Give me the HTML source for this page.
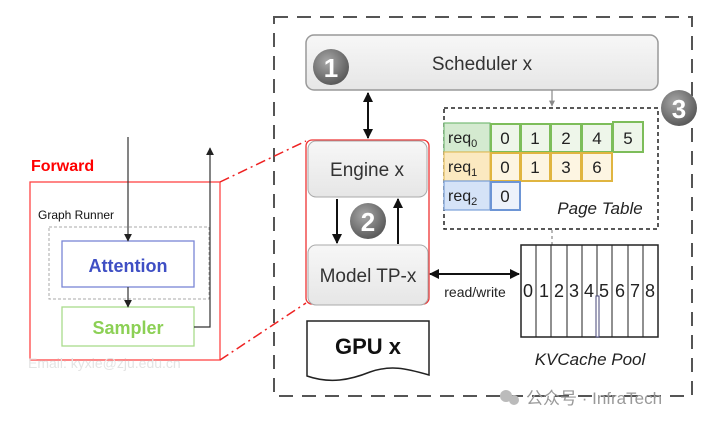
<!DOCTYPE html>
<html><head><meta charset="utf-8"><style>
html,body{margin:0;padding:0;background:#fff;}
svg{display:block;font-family:"Liberation Sans","Noto Sans CJK SC",sans-serif;}
</style></head><body>
<svg width="720" height="426" viewBox="0 0 720 426" xmlns="http://www.w3.org/2000/svg">
<defs>
<linearGradient id="g" x1="0" y1="0" x2="0" y2="1"><stop offset="0" stop-color="#f7f7f7"/><stop offset="1" stop-color="#e6e6e6"/></linearGradient>
<radialGradient id="c" cx="0.4" cy="0.35" r="0.7"><stop offset="0" stop-color="#a8a8a8"/><stop offset="1" stop-color="#555"/></radialGradient>
<marker id="a" viewBox="0 0 10 10" refX="9" refY="5" markerUnits="userSpaceOnUse" markerWidth="10" markerHeight="10" orient="auto-start-reverse"><path d="M0,0L10,5L0,10z" fill="#111"/></marker>
<marker id="as" viewBox="0 0 10 10" refX="9" refY="5" markerUnits="userSpaceOnUse" markerWidth="8" markerHeight="8" orient="auto-start-reverse"><path d="M0,0L10,5L0,10z" fill="#222"/></marker>
<marker id="ag" viewBox="0 0 10 10" refX="9" refY="5" markerUnits="userSpaceOnUse" markerWidth="6" markerHeight="6" orient="auto"><path d="M0,0L10,5L0,10z" fill="#888"/></marker>
</defs>
<rect x="274" y="17" width="418" height="379" fill="none" stroke="#555" stroke-width="2" stroke-dasharray="14,9"/>
<rect x="306" y="35" width="352" height="55" rx="8" fill="url(#g)" stroke="#999" stroke-width="1.5"/>
<text x="482" y="70" font-size="19" fill="#333" text-anchor="middle">Scheduler x</text>
<line x1="552" y1="90" x2="552" y2="106" stroke="#888" stroke-width="1.2" marker-end="url(#ag)"/>
<rect x="306" y="140" width="123" height="164" rx="6" fill="none" stroke="#e33" stroke-width="1.3"/>
<rect x="308" y="141" width="119" height="56" rx="8" fill="url(#g)" stroke="#aaa" stroke-width="1"/>
<text x="367" y="176" font-size="19" fill="#333" text-anchor="middle">Engine x</text>
<rect x="308" y="245" width="120" height="60" rx="8" fill="url(#g)" stroke="#aaa" stroke-width="1"/>
<text x="368" y="282" font-size="19" fill="#333" text-anchor="middle">Model TP-x</text>
<line x1="368" y1="93" x2="368" y2="138" stroke="#111" stroke-width="2" marker-start="url(#a)" marker-end="url(#a)"/>
<line x1="337" y1="199" x2="337" y2="243" stroke="#111" stroke-width="2" marker-end="url(#a)"/>
<line x1="398" y1="244" x2="398" y2="199" stroke="#111" stroke-width="2" marker-end="url(#a)"/>
<g font-weight="bold" font-size="26" fill="#fff" text-anchor="middle">
<circle cx="331" cy="67" r="18" fill="url(#c)"/><text x="331" y="77">1</text>
<circle cx="368" cy="221" r="18" fill="url(#c)"/><text x="368" y="231">2</text>
<circle cx="679" cy="108" r="18" fill="url(#c)"/><text x="679" y="118">3</text>
</g>
<rect x="444" y="108" width="214" height="121" fill="none" stroke="#222" stroke-width="1.5" stroke-dasharray="4,3"/>
<rect x="444" y="123" width="46" height="29" fill="#d4ead0" stroke="#7b7" stroke-width="1.2"/>
<rect x="444" y="152" width="46" height="29" fill="#fbe9c0" stroke="#e5c060" stroke-width="1.2"/>
<rect x="444" y="181" width="46" height="29" fill="#d5e3f7" stroke="#7aa0d8" stroke-width="1.2"/>
<g font-size="16" fill="#222">
<text x="448" y="143">req<tspan font-size="11" dy="4">0</tspan></text>
<text x="448" y="172">req<tspan font-size="11" dy="4">1</tspan></text>
<text x="448" y="201">req<tspan font-size="11" dy="4">2</tspan></text>
</g>
<g fill="#eef6ea" stroke="#7dbd5a" stroke-width="2">
<rect x="491" y="124" width="29" height="28"/><rect x="521" y="124" width="29" height="28"/><rect x="551" y="124" width="30" height="28"/><rect x="582" y="124" width="30" height="28"/><rect x="613" y="122" width="30" height="30"/>
</g>
<g fill="#fdf5e2" stroke="#e0b540" stroke-width="2">
<rect x="491" y="153" width="29" height="28"/><rect x="521" y="153" width="29" height="28"/><rect x="551" y="153" width="30" height="28"/><rect x="582" y="153" width="30" height="28"/>
</g>
<rect x="491" y="182" width="29" height="28" fill="#edf2fb" stroke="#6d95d5" stroke-width="2"/>
<g font-size="17" fill="#222" text-anchor="middle">
<text x="505" y="144">0</text><text x="535" y="144">1</text><text x="566" y="144">2</text><text x="597" y="144">4</text><text x="628" y="144">5</text>
<text x="505" y="173">0</text><text x="535" y="173">1</text><text x="566" y="173">3</text><text x="597" y="173">6</text>
<text x="505" y="202">0</text>
</g>
<text x="600" y="214" font-size="17" font-style="italic" fill="#222" text-anchor="middle">Page Table</text>
<line x1="552" y1="230" x2="552" y2="272" stroke="#888" stroke-width="1.2" stroke-dasharray="3,3" marker-end="url(#ag)"/>
<line x1="430" y1="274" x2="519" y2="274" stroke="#111" stroke-width="2" marker-start="url(#a)" marker-end="url(#a)"/>
<text x="475" y="297" font-size="14" fill="#222" text-anchor="middle">read/write</text>
<rect x="521" y="245" width="137" height="92" fill="#fff" stroke="#222" stroke-width="1.5"/>
<g stroke="#222" stroke-width="1">
<line x1="536" y1="245" x2="536" y2="337"/><line x1="551" y1="245" x2="551" y2="337"/><line x1="567" y1="245" x2="567" y2="337"/><line x1="582" y1="245" x2="582" y2="337"/><line x1="597" y1="245" x2="597" y2="337"/><line x1="612" y1="245" x2="612" y2="337"/><line x1="628" y1="245" x2="628" y2="337"/><line x1="643" y1="245" x2="643" y2="337"/>
</g>
<rect x="596" y="296" width="3" height="41" fill="#fff" stroke="#447" stroke-width="1"/>
<g font-size="18" fill="#222" text-anchor="middle">
<text x="528" y="297">0</text><text x="544" y="297">1</text><text x="559" y="297">2</text><text x="574" y="297">3</text><text x="589" y="297">4</text><text x="604" y="297">5</text><text x="620" y="297">6</text><text x="635" y="297">7</text><text x="650" y="297">8</text>
</g>
<text x="590" y="365" font-size="17" font-style="italic" fill="#222" text-anchor="middle">KVCache Pool</text>
<path d="M307,321 L429,321 L429,375 C405,368 390,365 370,372 C350,380 330,384 307,376 Z" fill="#fff" stroke="#222" stroke-width="1.5"/>
<text x="368" y="354" font-size="22" font-weight="bold" fill="#111" text-anchor="middle">GPU x</text>
<text x="31" y="171" font-size="16" font-weight="bold" fill="#f00">Forward</text>
<rect x="30" y="182" width="190" height="178" fill="none" stroke="#f44" stroke-width="1.3"/>
<text x="38" y="219" font-size="12" fill="#111">Graph Runner</text>
<rect x="49" y="227" width="160" height="72" fill="none" stroke="#aaa" stroke-width="1" stroke-dasharray="3,2"/>
<rect x="62" y="241" width="132" height="46" fill="#fff" stroke="#7a86d6" stroke-width="1.3"/>
<text x="128" y="272" font-size="18" font-weight="bold" fill="#3f4fc4" text-anchor="middle">Attention</text>
<rect x="62" y="307" width="132" height="39" fill="#fff" stroke="#a9dc8c" stroke-width="1.3"/>
<text x="128" y="334" font-size="18" font-weight="bold" fill="#8cd055" text-anchor="middle">Sampler</text>
<line x1="128" y1="137" x2="128" y2="241" stroke="#333" stroke-width="1.2" marker-end="url(#as)"/>
<line x1="128" y1="287" x2="128" y2="307" stroke="#333" stroke-width="1.2" marker-end="url(#as)"/>
<polyline points="194,327 210,327 210,148" fill="none" stroke="#333" stroke-width="1.2" marker-end="url(#as)"/>
<line x1="220" y1="182" x2="306" y2="141" stroke="#e22" stroke-width="1.5" stroke-dasharray="10,4,2,4"/>
<line x1="220" y1="360" x2="306" y2="303" stroke="#e22" stroke-width="1.5" stroke-dasharray="10,4,2,4"/>
<text x="28" y="368" font-size="14" fill="#e4e4e4">Email:  kyxie@zju.edu.cn</text>
<circle cx="506" cy="396" r="6" fill="#bbb"/><circle cx="514" cy="400" r="5" fill="#bbb"/>
<text x="526" y="404" font-size="17" fill="#999">公众号 · InfraTech</text>
</svg>
</body></html>
